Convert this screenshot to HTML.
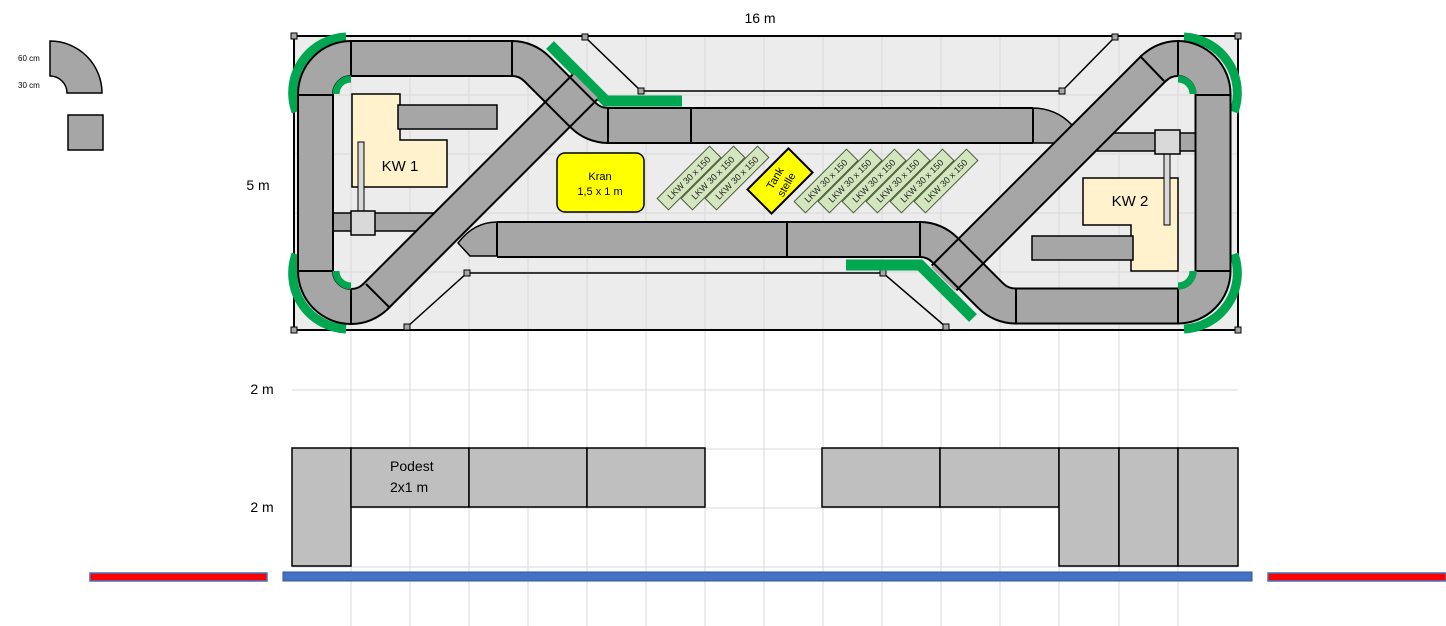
<!DOCTYPE html>
<html><head><meta charset="utf-8"><style>
html,body{margin:0;padding:0;background:#fff;}
svg{display:block;font-family:"Liberation Sans",sans-serif;}
</style></head><body>
<svg width="1446" height="626" viewBox="0 0 1446 626" xmlns="http://www.w3.org/2000/svg">
<rect x="294" y="36" width="944" height="294" fill="#ececec"/>
<g stroke="#d9d9d9" stroke-width="1">
<line x1="351" y1="36" x2="351" y2="626"/><line x1="410" y1="36" x2="410" y2="626"/><line x1="469" y1="36" x2="469" y2="626"/><line x1="528" y1="36" x2="528" y2="626"/><line x1="587" y1="36" x2="587" y2="626"/><line x1="646" y1="36" x2="646" y2="626"/><line x1="705" y1="36" x2="705" y2="626"/><line x1="764" y1="36" x2="764" y2="626"/><line x1="823" y1="36" x2="823" y2="626"/><line x1="882" y1="36" x2="882" y2="626"/><line x1="941" y1="36" x2="941" y2="626"/><line x1="1000" y1="36" x2="1000" y2="626"/><line x1="1059" y1="36" x2="1059" y2="626"/><line x1="1119" y1="36" x2="1119" y2="626"/><line x1="1178" y1="36" x2="1178" y2="626"/>
<line x1="294" y1="95" x2="1238" y2="95"/><line x1="294" y1="154" x2="1238" y2="154"/><line x1="294" y1="213" x2="1238" y2="213"/><line x1="294" y1="272" x2="1238" y2="272"/>
<line x1="292" y1="390" x2="1238" y2="390"/><line x1="292" y1="449" x2="1238" y2="449"/><line x1="292" y1="508" x2="1238" y2="508"/><line x1="292" y1="567" x2="1238" y2="567"/>
</g>
<rect x="294" y="36" width="944" height="294" fill="none" stroke="#000" stroke-width="2"/>
<g stroke="#000" stroke-width="1.5" fill="none">
<polyline points="585,37 641,91 1062,91 1115,37"/>
<polyline points="407,327 467,273 883,273 946,327"/>
</g>
<g fill="#a6a6a6" stroke="#000" stroke-width="1">
<rect x="291" y="33" width="6" height="6"/><rect x="1235" y="33" width="6" height="6"/><rect x="291" y="327" width="6" height="6"/><rect x="1235" y="327" width="6" height="6"/>
<rect x="582" y="34" width="6" height="6"/><rect x="638" y="88" width="6" height="6"/><rect x="1059" y="88" width="6" height="6"/><rect x="1112" y="34" width="6" height="6"/>
<rect x="404" y="324" width="6" height="6"/><rect x="464" y="270" width="6" height="6"/><rect x="880" y="270" width="6" height="6"/><rect x="943" y="324" width="6" height="6"/>
</g>
<g fill="none" stroke="#00a650" stroke-width="9">
<path d="M296,112 A56,56 0 0,1 346,37"/>
<path d="M296,254 A56,56 0 0,0 346,329"/>
<path d="M1234,112 A56,56 0 0,0 1184,37"/>
<path d="M1234,254 A56,56 0 0,1 1184,329"/>
</g>
<g fill="none" stroke="#00a650" stroke-width="11">
<polyline points="550,45 606,101 682,101"/>
<polyline points="846,265 920,265 973,318"/>
</g>
<rect x="333" y="213" width="100" height="18" fill="#a6a6a6" stroke="#000" stroke-width="1.5"/>
<rect x="1097" y="133" width="99" height="18" fill="#a6a6a6" stroke="#000" stroke-width="1.5"/>
<path d="M497,222 Q474,222 458,243 L470,256 L497,256 Z" fill="#a6a6a6" stroke="#000" stroke-width="1.5"/>
<path d="M1032,108 Q1056,108 1072,125 L1056,143 L1032,143 Z" fill="#a6a6a6" stroke="#000" stroke-width="1.5"/>
<g fill="none" stroke-linecap="butt" stroke-linejoin="round">
<path stroke="#000" stroke-width="37" d="M512,58.5 L351,58.5 A35.5,35.5 0 0,0 315.5,94 L315.5,271 A35.5,35.5 0 0,0 351,306.5 A35,35 0 0,0 375.7,296.3"/>
<path stroke="#a6a6a6" stroke-width="33" d="M512,58.5 L351,58.5 A35.5,35.5 0 0,0 315.5,94 L315.5,271 A35.5,35.5 0 0,0 351,306.5 A35,35 0 0,0 375.7,296.3"/>
<path stroke="#000" stroke-width="37" d="M511,58.5 L512,58.5 A35,35 0 0,1 536.7,68.8 L583.2,115.2 A35,35 0 0,0 608,125.5 L1033,125.5"/>
<path stroke="#a6a6a6" stroke-width="33" d="M511,58.5 L512,58.5 A35,35 0 0,1 536.7,68.8 L583.2,115.2 A35,35 0 0,0 608,125.5 L1033,125.5"/>
<path stroke="#000" stroke-width="37" d="M374.5,297.5 L585,87"/>
<path stroke="#a6a6a6" stroke-width="33" d="M373,299 L586,86"/>
<path stroke="#000" stroke-width="37" d="M497,239.5 L920,239.5 A35,35 0 0,1 944.7,249.8 L990.7,295.7 A35,35 0 0,0 1015.4,306 L1178,306 A35,35 0 0,0 1213,271 L1213,94 A35.5,35.5 0 0,0 1178,58.5 A35,35 0 0,0 1153.3,68.8"/>
<path stroke="#a6a6a6" stroke-width="33" d="M497,239.5 L920,239.5 A35,35 0 0,1 944.7,249.8 L990.7,295.7 A35,35 0 0,0 1015.4,306 L1178,306 A35,35 0 0,0 1213,271 L1213,94 A35.5,35.5 0 0,0 1178,58.5 A35,35 0 0,0 1153.3,68.8"/>
<path stroke="#000" stroke-width="37" d="M1154.5,67.5 L944,278"/>
<path stroke="#a6a6a6" stroke-width="33" d="M1156,66 L943,279"/>
</g>
<g stroke="#000" stroke-width="2" fill="none">
<line x1="545.6" y1="102.4" x2="569.6" y2="126.4"/>
<line x1="570.3" y1="77.7" x2="594.3" y2="101.7"/>
<line x1="933.8" y1="263.5" x2="958.5" y2="288.2"/>
<line x1="958.5" y1="238.8" x2="983.2" y2="263.5"/>
<line x1="351" y1="41" x2="351" y2="76"/><line x1="298" y1="95" x2="333" y2="95"/><line x1="298" y1="271" x2="333" y2="271"/><line x1="351" y1="289" x2="351" y2="324"/>
<line x1="512" y1="41" x2="512" y2="76"/><line x1="366" y1="284" x2="390" y2="308"/>
<line x1="608" y1="108" x2="608" y2="143"/><line x1="691" y1="108" x2="691" y2="143"/><line x1="1033" y1="108" x2="1033" y2="143"/>
<line x1="497" y1="222" x2="497" y2="256"/><line x1="787" y1="222" x2="787" y2="256"/><line x1="920" y1="222" x2="920" y2="256"/>
<line x1="1016" y1="288" x2="1016" y2="323"/><line x1="1178" y1="288" x2="1178" y2="323"/><line x1="1196" y1="271" x2="1231" y2="271"/><line x1="1196" y1="95" x2="1231" y2="95"/><line x1="1178" y1="41" x2="1178" y2="76"/>
<line x1="1140" y1="56" x2="1164" y2="81"/>
</g>
<g fill="none" stroke="#00a650" stroke-width="7">
<path d="M336,94 A15,15 0 0,1 351,79"/>
<path d="M336,271 A15,15 0 0,0 351,286"/>
<path d="M1193,94 A15,15 0 0,0 1178,79"/>
<path d="M1193,271 A15,15 0 0,1 1178,286"/>
</g>
<path d="M352,94 L400,94 L400,140 L447,140 L447,187 L352,187 Z" fill="#fff2cc" stroke="#000" stroke-width="1.5"/>
<rect x="398" y="105" width="99" height="24" fill="#a6a6a6" stroke="#000" stroke-width="1.5"/>
<text x="400" y="171" font-size="15" text-anchor="middle">KW 1</text>
<rect x="358" y="142" width="6" height="70" fill="#d9d9d9" stroke="#000" stroke-width="1"/>
<rect x="351" y="211" width="24" height="24" fill="#d9d9d9" stroke="#000" stroke-width="1.5"/>
<path d="M1083,178 L1178,178 L1178,271 L1131,271 L1131,225 L1083,225 Z" fill="#fff2cc" stroke="#000" stroke-width="1.5"/>
<rect x="1032" y="236" width="101" height="24" fill="#a6a6a6" stroke="#000" stroke-width="1.5"/>
<text x="1130" y="206" font-size="15" text-anchor="middle">KW 2</text>
<rect x="1164" y="153" width="6" height="72" fill="#d9d9d9" stroke="#000" stroke-width="1"/>
<rect x="1155" y="130" width="25" height="24" fill="#d9d9d9" stroke="#000" stroke-width="1.5"/>
<rect x="557" y="153" width="87" height="59" rx="8" fill="#ffff00" stroke="#000" stroke-width="1.5"/>
<text x="600" y="180" font-size="11" text-anchor="middle">Kran</text>
<text x="600" y="195" font-size="11" text-anchor="middle">1,5 x 1 m</text>
<g font-size="9" fill="#222" text-anchor="middle">
<g transform="translate(689,178) rotate(-45)"><rect x="-37" y="-8" width="74" height="16" fill="#d4e6bd" stroke="#4a5a3a" stroke-width="1"/><text y="3">LKW 30 x 150</text></g>
<g transform="translate(713,178) rotate(-45)"><rect x="-37" y="-8" width="74" height="16" fill="#d4e6bd" stroke="#4a5a3a" stroke-width="1"/><text y="3">LKW 30 x 150</text></g>
<g transform="translate(737,178) rotate(-45)"><rect x="-37" y="-8" width="74" height="16" fill="#d4e6bd" stroke="#4a5a3a" stroke-width="1"/><text y="3">LKW 30 x 150</text></g>
<g transform="translate(826,181) rotate(-45)"><rect x="-37" y="-8" width="74" height="16" fill="#d4e6bd" stroke="#4a5a3a" stroke-width="1"/><text y="3">LKW 30 x 150</text></g>
<g transform="translate(850,181) rotate(-45)"><rect x="-37" y="-8" width="74" height="16" fill="#d4e6bd" stroke="#4a5a3a" stroke-width="1"/><text y="3">LKW 30 x 150</text></g>
<g transform="translate(874,181) rotate(-45)"><rect x="-37" y="-8" width="74" height="16" fill="#d4e6bd" stroke="#4a5a3a" stroke-width="1"/><text y="3">LKW 30 x 150</text></g>
<g transform="translate(898,181) rotate(-45)"><rect x="-37" y="-8" width="74" height="16" fill="#d4e6bd" stroke="#4a5a3a" stroke-width="1"/><text y="3">LKW 30 x 150</text></g>
<g transform="translate(922,181) rotate(-45)"><rect x="-37" y="-8" width="74" height="16" fill="#d4e6bd" stroke="#4a5a3a" stroke-width="1"/><text y="3">LKW 30 x 150</text></g>
<g transform="translate(946,181) rotate(-45)"><rect x="-37" y="-8" width="74" height="16" fill="#d4e6bd" stroke="#4a5a3a" stroke-width="1"/><text y="3">LKW 30 x 150</text></g>
</g>
<g transform="translate(780,181) rotate(-45)">
<rect x="-29" y="-17" width="58" height="34" fill="#ffff00" stroke="#000" stroke-width="2"/>
</g>
<g transform="translate(780,181) rotate(-60)" font-size="11" text-anchor="middle">
<text y="-2">Tank</text><text y="11">stelle</text>
</g>
<text x="760" y="23" font-size="14" text-anchor="middle">16 m</text>
<text x="258" y="190" font-size="14" text-anchor="middle">5 m</text>
<text x="262" y="394" font-size="14" text-anchor="middle">2 m</text>
<text x="262" y="512" font-size="14" text-anchor="middle">2 m</text>
<path d="M50,41 A52,52 0 0,1 102,93 L67,93 A17,17 0 0,0 50,76 Z" fill="#a6a6a6" stroke="#000" stroke-width="1.5"/>
<rect x="68" y="115" width="35" height="35" fill="#a6a6a6" stroke="#000" stroke-width="1.5"/>
<text x="18" y="61" font-size="8">60 cm</text>
<text x="18" y="88" font-size="8">30 cm</text>
<g fill="#bfbfbf" stroke="#000" stroke-width="1.5">
<path d="M292,448 L351,448 L351,566 L292,566 Z"/>
<rect x="351" y="448" width="118" height="59"/>
<rect x="469" y="448" width="118" height="59"/>
<rect x="587" y="448" width="118" height="59"/>
<rect x="822" y="448" width="118" height="59"/>
<rect x="940" y="448" width="119" height="59"/>
<rect x="1059" y="448" width="60" height="118"/>
<rect x="1119" y="448" width="59" height="118"/>
<rect x="1178" y="448" width="60" height="118"/>
</g>
<text x="390" y="471" font-size="14">Podest</text>
<text x="390" y="492" font-size="14">2x1 m</text>
<rect x="90" y="573" width="177" height="8" fill="#ff0000" stroke="#4472c4" stroke-width="1.5"/>
<rect x="283" y="572" width="969" height="9" fill="#4472c4" stroke="#2f5597" stroke-width="1"/>
<rect x="1268" y="573" width="178" height="8" fill="#ff0000" stroke="#4472c4" stroke-width="1.5"/>
</svg>
</body></html>
